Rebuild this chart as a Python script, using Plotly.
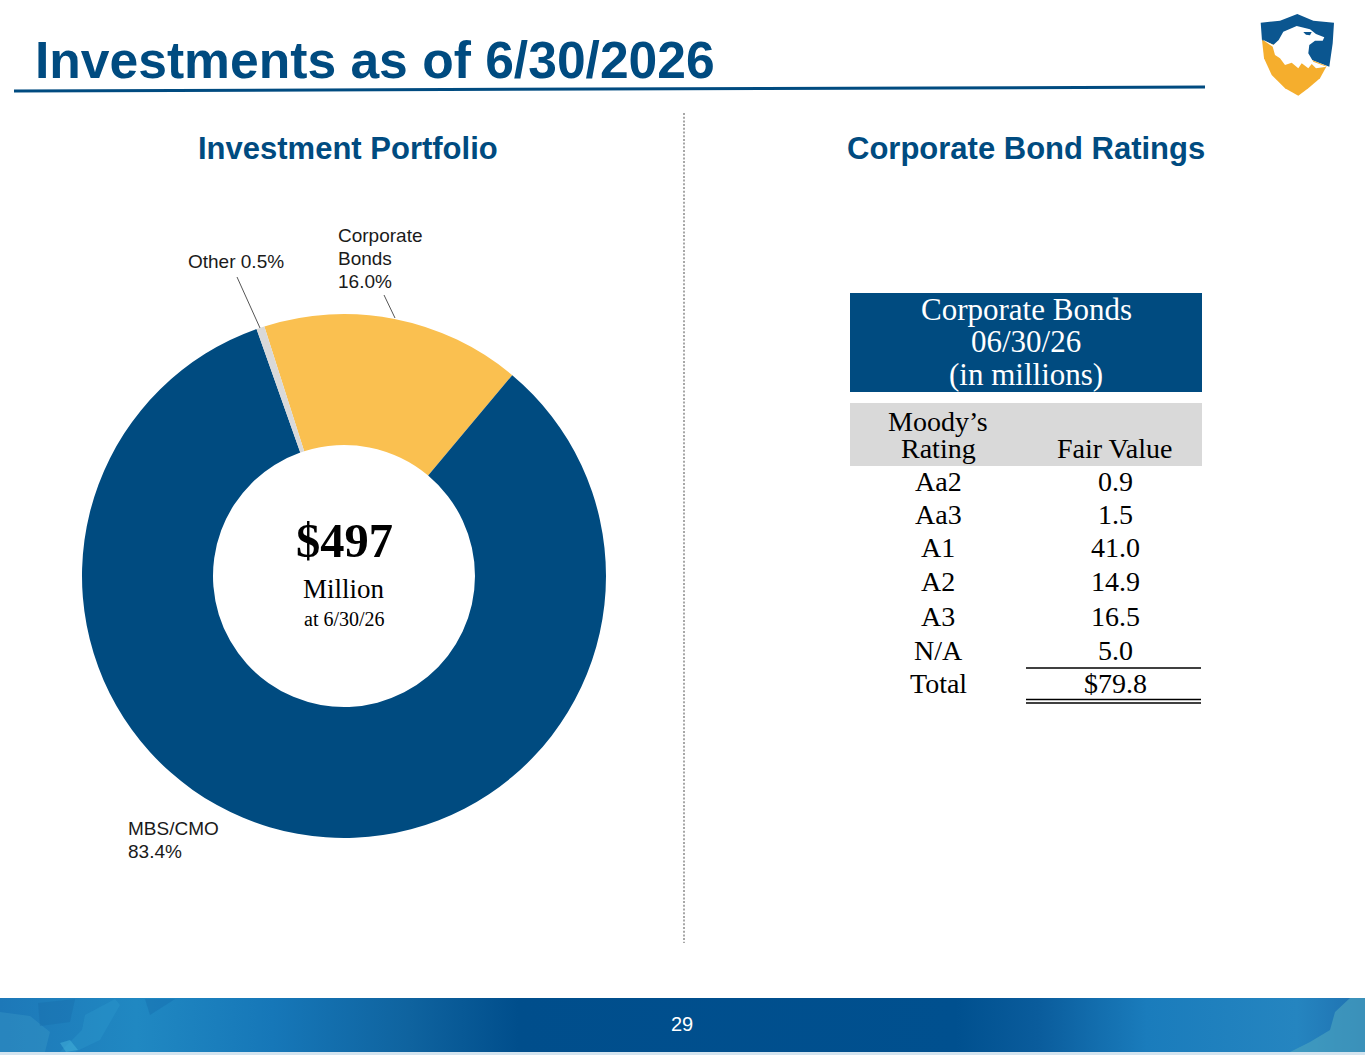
#!/usr/bin/env python3
"""Investments as of 6/30/2026 slide: portfolio donut and corporate bond ratings table."""
import plotly.graph_objects as go

# data
slice_labels = ['Corporate Bonds', 'MBS/CMO', 'Other']
slice_shares = [16.0, 83.4, 0.5]
slice_colors = ['#FAC050', '#004B80', '#D9D9D9']

ratings = ['Aa2', 'Aa3', 'A1', 'A2', 'A3', 'N/A', 'Total']
fair_values = ['0.9', '1.5', '41.0', '14.9', '16.5', '5.0', '$79.8']

NAVY = '#004B80'
W, H = 1365, 1055
SANS = 'Liberation Sans, Arial, sans-serif'
SERIF = 'Liberation Serif, Times New Roman, serif'

fig = go.Figure()
shapes = []
notes = []


def text(x, y, s, size, color='#000000', font=SERIF, bold=False, anchor='center'):
    if bold:
        s = '<b>' + s + '</b>'
    notes.append(dict(x=x, y=y, xref='x', yref='y', text=s, showarrow=False, xanchor=anchor,
                      yanchor='middle', font=dict(family=font, size=size, color=color)))


def line(x0, y0, x1, y1, color, width, dash='solid'):
    shapes.append(dict(type='line', xref='x', yref='y', x0=x0, y0=y0, x1=x1, y1=y1,
                       line=dict(color=color, width=width, dash=dash)))


def rect(x0, y0, x1, y1, color):
    shapes.append(dict(type='rect', xref='x', yref='y', x0=x0, y0=y0, x1=x1, y1=y1,
                       fillcolor=color, line=dict(width=0), layer='below'))


def blob(pts, color, opacity=1.0):
    d = 'M' + ' L'.join(f'{a:.1f},{b:.1f}' for a, b in pts) + ' Z'
    shapes.append(dict(type='path', xref='x', yref='y', path=d, fillcolor=color, opacity=opacity,
                       line=dict(width=0)))


def logo_path(points, color):
    blob([(1230 + px / 3, py / 3) for px, py in points], color)


# footer band
fig.add_trace(go.Scatter(
    x=[0, W, W, 0, 0], y=[998, 998, 1052, 1052, 998], mode='lines', fill='toself',
    line=dict(width=0), hoverinfo='skip', showlegend=False,
    fillgradient=dict(type='horizontal', colorscale=[
        [0.0, '#1D78B8'], [0.1, '#2088C2'], [0.2, '#1677B8'], [0.3, '#0F639F'], [0.38, '#004E8C'],
        [0.7, '#00508F'], [0.76, '#0A5C9C'], [0.84, '#1A7CBC'], [0.95, '#2585C0'], [1.0, '#1F70B0']]),
))

# footer texture
blob([(0, 1012), (30, 1016), (50, 1032), (45, 1052), (0, 1052)], '#3F9FC8', 0.35)
blob([(38, 1003), (75, 999), (70, 1022), (40, 1026)], '#166AAA', 0.35)
blob([(82, 1030), (85, 1015), (115, 999), (120, 1005), (100, 1040), (75, 1052), (60, 1052)], '#2F9CCF', 0.35)
blob([(60, 1043), (70, 1040), (78, 1050), (66, 1052)], '#46B4DC', 0.5)
blob([(145, 999), (175, 999), (150, 1015)], '#1468A8', 0.35)
blob([(1365, 998), (1350, 998), (1335, 1012), (1330, 1030), (1310, 1042), (1290, 1052), (1365, 1052)],
     '#4FA6BF', 0.6)
rect(0, 998, W, 999.5, '#4A9CC8')
rect(0, 1052, W, H, '#D4E4EF')

# donut
fig.add_trace(go.Pie(
    labels=slice_labels, values=slice_shares, sort=False, direction='clockwise', rotation=-17.7,
    hole=0.5, textinfo='none', hoverinfo='label+percent', showlegend=False,
    marker=dict(colors=slice_colors, line=dict(width=0)),
    domain=dict(x=[82 / W, 606 / W], y=[1 - 838 / H, 1 - 314 / H]),
))

# heading
text(33, 60, 'Investments as of 6/30/2026', 51.6, NAVY, SANS, True, 'left')
line(14, 91, 1205, 87, NAVY, 3)
text(348, 148, 'Investment Portfolio', 31, NAVY, SANS, True)
text(1026, 148, 'Corporate Bond Ratings', 31, NAVY, SANS, True)
line(684, 113, 684, 943, '#8A8A8A', 1.5, '2px,1.7px')

# donut labels
LABEL = 19
text(336, 235, 'Corporate', LABEL, '#1A1A1A', SANS, anchor='left')
text(336, 258, 'Bonds', LABEL, '#1A1A1A', SANS, anchor='left')
text(336, 281, f'{slice_shares[0]:.1f}%', LABEL, '#1A1A1A', SANS, anchor='left')
text(186, 261, f'{slice_labels[2]} {slice_shares[2]:.1f}%', LABEL, '#1A1A1A', SANS, anchor='left')
text(126, 828, slice_labels[1], LABEL, '#1A1A1A', SANS, anchor='left')
text(126, 851, f'{slice_shares[1]:.1f}%', LABEL, '#1A1A1A', SANS, anchor='left')
line(384, 295, 395, 318, '#555555', 1)
line(237, 277, 260, 328, '#555555', 1)

# donut centre
text(344, 540, '$497', 48.5, '#000000', SERIF, True)
text(344, 589, 'Million', 27)
text(344, 619, 'at 6/30/26', 20)

# table
rect(850, 293, 1202, 392, NAVY)
rect(850, 403, 1202, 466, '#D9D9D9')
TABLE = 28
text(1026, 309, 'Corporate Bonds', 31, '#FFFFFF')
text(1026, 341, '06/30/26', 31, '#FFFFFF')
text(1026, 374, '(in millions)', 31, '#FFFFFF')
text(938, 421, 'Moody’s', TABLE)
text(938, 448, 'Rating', TABLE)
text(1114, 448, 'Fair Value', TABLE)

row_ys = [481, 514, 547, 581, 616, 650, 683]
for rating, value, ry in zip(ratings, fair_values, row_ys):
    text(938, ry, rating, TABLE)
    text(1115, ry, value, TABLE)
line(1026, 668, 1201, 668, '#000000', 1.5)
line(1026, 699.5, 1201, 699.5, '#000000', 1.5)
line(1026, 703, 1201, 703, '#000000', 1.5)

# footer number
text(682, 1024, '29', 20, '#FFFFFF', SANS)

# logo
logo_path([(92, 68), (150, 62), (202, 42), (250, 62), (312, 68), (308, 130), (298, 200), (96, 122)], '#0B5690')
logo_path([(96, 120), (290, 198), (270, 235), (235, 265), (205, 287), (165, 265), (125, 225), (102, 175)], '#F5AE2D')
logo_path([(96, 118), (130, 135), (146, 120), (160, 95), (200, 78), (240, 88), (258, 102), (283, 112),
           (278, 122), (255, 122), (238, 135), (235, 160), (250, 185), (290, 200), (258, 205), (245, 192),
           (235, 205), (215, 190), (205, 205), (185, 188), (165, 195), (150, 175), (135, 165), (128, 140)], '#FFFFFF')
logo_path([(220, 96), (245, 96), (240, 106), (228, 104)], '#0B5690')

fig.update_layout(
    width=W, height=H, margin=dict(l=0, r=0, t=0, b=0),
    paper_bgcolor='#FFFFFF', plot_bgcolor='rgba(0,0,0,0)',
    xaxis=dict(range=[0, W], visible=False, fixedrange=True, domain=[0, 1]),
    yaxis=dict(range=[H, 0], visible=False, fixedrange=True, domain=[0, 1]),
    shapes=shapes, annotations=notes, showlegend=False,
)

fig.write_html('out.html', config=dict(displayModeBar=False),
               post_script="document.body.style.margin='0';")
